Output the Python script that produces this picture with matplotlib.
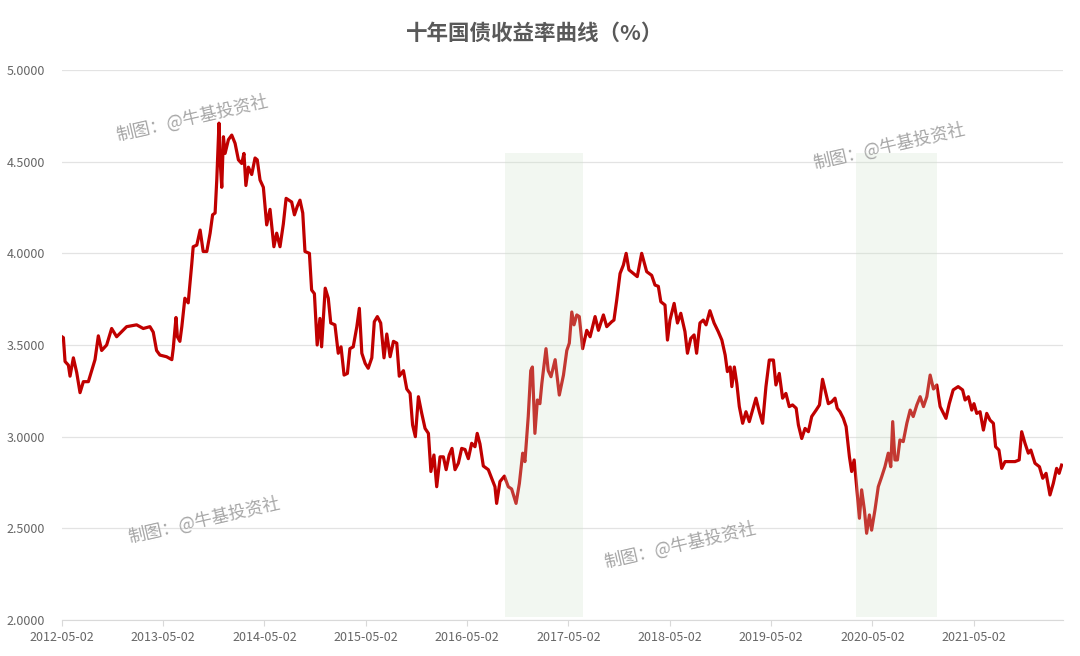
import pandas as pd
import matplotlib.pyplot as plt
import matplotlib.dates as mdates

plt.rcParams['font.family'] = ['Noto Sans CJK SC', 'DejaVu Sans']

# 10-year government bond yield (%)
dates = [
    "2012-05-02", "2012-05-07", "2012-05-13", "2012-05-25", "2012-05-31", "2012-06-06", "2012-06-12",
    "2012-06-24", "2012-07-06", "2012-07-18", "2012-08-05", "2012-08-17", "2012-08-29", "2012-09-10",
    "2012-09-22", "2012-10-10", "2012-10-28", "2012-11-15", "2012-12-21", "2013-01-26", "2013-02-19",
    "2013-03-15", "2013-03-27", "2013-04-08", "2013-04-20", "2013-05-14", "2013-06-02", "2013-06-07",
    "2013-06-17", "2013-06-22", "2013-07-01", "2013-07-08", "2013-07-19", "2013-07-31", "2013-08-13",
    "2013-08-18", "2013-08-31", "2013-09-12", "2013-09-23", "2013-10-06", "2013-10-18", "2013-10-27",
    "2013-11-05", "2013-11-11", "2013-11-19", "2013-11-23", "2013-11-29", "2013-12-05", "2013-12-11",
    "2013-12-23", "2014-01-04", "2014-01-16", "2014-01-28", "2014-02-09", "2014-02-17", "2014-02-24",
    "2014-03-05", "2014-03-17", "2014-03-29", "2014-04-06", "2014-04-16", "2014-04-28", "2014-05-10",
    "2014-05-22", "2014-06-05", "2014-06-15", "2014-06-27", "2014-07-09", "2014-07-19", "2014-08-08",
    "2014-08-18", "2014-08-28", "2014-09-07", "2014-09-17", "2014-09-25", "2014-10-11", "2014-10-19",
    "2014-10-29", "2014-11-08", "2014-11-18", "2014-11-24", "2014-12-07", "2014-12-18", "2014-12-27",
    "2015-01-11", "2015-01-23", "2015-02-02", "2015-02-13", "2015-02-25", "2015-03-06", "2015-03-18",
    "2015-03-31", "2015-04-09", "2015-04-18", "2015-04-30", "2015-05-11", "2015-05-24", "2015-06-02",
    "2015-06-13", "2015-06-25", "2015-07-07", "2015-07-17", "2015-07-29", "2015-08-10", "2015-08-22",
    "2015-08-31", "2015-09-15", "2015-09-27", "2015-10-09", "2015-10-18", "2015-10-28", "2015-11-08",
    "2015-11-20", "2015-12-02", "2015-12-14", "2015-12-23", "2016-01-03", "2016-01-13", "2016-01-25",
    "2016-02-06", "2016-02-16", "2016-02-27", "2016-03-08", "2016-03-19", "2016-03-31", "2016-04-12",
    "2016-04-24", "2016-05-06", "2016-05-18", "2016-05-30", "2016-06-07", "2016-06-17", "2016-06-29",
    "2016-07-17", "2016-07-29", "2016-08-10", "2016-08-16", "2016-08-28", "2016-09-13", "2016-09-27",
    "2016-10-09", "2016-10-25", "2016-11-06", "2016-11-18", "2016-11-26", "2016-12-08", "2016-12-17",
    "2016-12-23", "2017-01-01", "2017-01-10", "2017-01-19", "2017-01-26", "2017-02-10", "2017-02-18",
    "2017-02-28", "2017-03-15", "2017-03-30", "2017-04-14", "2017-04-26", "2017-05-05", "2017-05-14",
    "2017-05-22", "2017-06-01", "2017-06-10", "2017-06-22", "2017-07-07", "2017-07-19", "2017-08-06",
    "2017-08-18", "2017-09-05", "2017-09-17", "2017-10-05", "2017-10-13", "2017-10-23", "2017-11-04",
    "2017-11-16", "2017-11-26", "2017-12-06", "2017-12-22", "2018-01-05", "2018-01-21", "2018-02-08",
    "2018-02-26", "2018-03-10", "2018-03-22", "2018-03-31", "2018-04-15", "2018-04-24", "2018-05-03",
    "2018-05-18", "2018-05-30", "2018-06-11", "2018-06-26", "2018-07-05", "2018-07-17", "2018-07-29",
    "2018-08-07", "2018-08-19", "2018-08-31", "2018-09-10", "2018-09-24", "2018-10-09", "2018-10-24",
    "2018-11-06", "2018-11-18", "2018-11-26", "2018-12-06", "2018-12-12", "2018-12-21", "2018-12-30",
    "2019-01-08", "2019-01-20", "2019-02-01", "2019-02-13", "2019-02-25", "2019-03-09", "2019-03-21",
    "2019-04-02", "2019-04-14", "2019-04-26", "2019-05-11", "2019-05-20", "2019-06-01", "2019-06-13",
    "2019-06-25", "2019-07-07", "2019-07-19", "2019-08-01", "2019-08-09", "2019-08-21", "2019-09-02",
    "2019-09-14", "2019-09-26", "2019-10-12", "2019-10-24", "2019-11-04", "2019-11-13", "2019-11-25",
    "2019-12-07", "2019-12-19", "2019-12-27", "2020-01-06", "2020-01-18", "2020-01-28", "2020-02-05",
    "2020-02-09", "2020-02-17", "2020-02-26", "2020-03-06", "2020-03-16", "2020-03-24", "2020-04-03",
    "2020-04-11", "2020-04-21", "2020-04-29", "2020-05-11", "2020-05-23", "2020-06-04", "2020-06-16",
    "2020-06-28", "2020-07-07", "2020-07-14", "2020-07-22", "2020-07-31", "2020-08-09", "2020-08-21",
    "2020-09-03", "2020-09-15", "2020-09-26", "2020-10-09", "2020-10-21", "2020-11-02", "2020-11-14",
    "2020-11-26", "2020-12-08", "2020-12-20", "2021-01-01", "2021-01-13", "2021-01-22", "2021-02-03",
    "2021-02-17", "2021-03-07", "2021-03-23", "2021-04-01", "2021-04-13", "2021-04-25", "2021-05-03",
    "2021-05-13", "2021-05-25", "2021-06-06", "2021-06-18", "2021-06-30", "2021-07-12", "2021-07-20",
    "2021-08-01", "2021-08-11", "2021-08-23", "2021-09-10", "2021-09-28", "2021-10-13", "2021-10-22",
    "2021-11-03", "2021-11-15", "2021-11-24", "2021-12-09", "2021-12-25", "2022-01-06", "2022-01-18",
    "2022-02-01", "2022-02-13", "2022-02-25", "2022-03-06", "2022-03-15",
]
yields = [
    3.545, 3.54, 3.41, 3.39, 3.33, 3.38, 3.43,
    3.35, 3.24, 3.30, 3.30, 3.36, 3.42, 3.55,
    3.47, 3.50, 3.59, 3.545, 3.60, 3.61, 3.59,
    3.60, 3.57, 3.47, 3.445, 3.436, 3.42, 3.48,
    3.65, 3.545, 3.52, 3.60, 3.755, 3.73, 3.945,
    4.036, 4.045, 4.127, 4.01, 4.01, 4.11, 4.21,
    4.22, 4.40, 4.71, 4.51, 4.36, 4.636, 4.545,
    4.62, 4.645, 4.60, 4.51, 4.49, 4.545, 4.37,
    4.47, 4.43, 4.52, 4.51, 4.40, 4.36, 4.155,
    4.24, 4.036, 4.11, 4.036, 4.16, 4.30, 4.28,
    4.21, 4.255, 4.29, 4.22, 4.01, 4.00, 3.80,
    3.78, 3.50, 3.645, 3.49, 3.81, 3.755, 3.62,
    3.61, 3.455, 3.49, 3.336, 3.345, 3.48, 3.49,
    3.60, 3.70, 3.455, 3.40, 3.373, 3.43, 3.627,
    3.655, 3.62, 3.43, 3.56, 3.436, 3.52, 3.51,
    3.33, 3.36, 3.26, 3.236, 3.064, 3.00, 3.218,
    3.127, 3.045, 3.018, 2.81, 2.90, 2.727, 2.89,
    2.89, 2.82, 2.90, 2.936, 2.82, 2.855, 2.936,
    2.93, 2.88, 2.964, 2.945, 3.018, 2.96, 2.84,
    2.82, 2.773, 2.727, 2.636, 2.755, 2.785, 2.727,
    2.715, 2.636, 2.745, 2.91, 2.864, 3.11, 3.36,
    3.38, 3.018, 3.20, 3.18, 3.29, 3.48, 3.36,
    3.327, 3.42, 3.227, 3.336, 3.47, 3.51, 3.68,
    3.61, 3.664, 3.655, 3.48, 3.58, 3.545, 3.655,
    3.58, 3.664, 3.60, 3.627, 3.636, 3.745, 3.89,
    3.936, 4.00, 3.91, 3.89, 3.873, 4.00, 3.90,
    3.88, 3.827, 3.82, 3.736, 3.718, 3.527, 3.636,
    3.727, 3.62, 3.673, 3.573, 3.455, 3.536, 3.555,
    3.455, 3.62, 3.636, 3.61, 3.687, 3.62, 3.573,
    3.527, 3.445, 3.355, 3.38, 3.273, 3.38, 3.29,
    3.164, 3.073, 3.136, 3.082, 3.145, 3.21, 3.136,
    3.073, 3.273, 3.418, 3.418, 3.282, 3.345, 3.21,
    3.236, 3.164, 3.173, 3.155, 3.064, 2.99, 3.045,
    3.027, 3.11, 3.145, 3.173, 3.313, 3.255, 3.18,
    3.19, 3.21, 3.155, 3.136, 3.10, 3.055, 2.945,
    2.89, 2.81, 2.873, 2.727, 2.555, 2.71, 2.60,
    2.473, 2.573, 2.49, 2.60, 2.727, 2.78, 2.836,
    2.91, 2.836, 3.082, 2.873, 2.873, 2.982, 2.973,
    3.073, 3.145, 3.11, 3.173, 3.218, 3.164, 3.218,
    3.336, 3.26, 3.282, 3.164, 3.127, 3.10, 3.18,
    3.255, 3.273, 3.255, 3.20, 3.218, 3.145, 3.18,
    3.127, 3.136, 3.036, 3.127, 3.09, 3.073, 2.945,
    2.927, 2.827, 2.864, 2.864, 2.864, 2.873, 3.027,
    2.964, 2.91, 2.927, 2.855, 2.836, 2.773, 2.80,
    2.682, 2.745, 2.827, 2.80, 2.845,
]

tick_dates = ["2012-05-02", "2013-05-02", "2014-05-02", "2015-05-02", "2016-05-02",
              "2017-05-02", "2018-05-02", "2019-05-02", "2020-05-02", "2021-05-02"]
y_ticks = [2.0, 2.5, 3.0, 3.5, 4.0, 4.5, 5.0]

# highlighted periods
spans = [("2016-09-14", "2017-06-22"), ("2020-03-05", "2020-12-20")]
span_top = 4.55

title = "十年国债收益率曲线（%）"
watermark = "制图：@牛基投资社"

x = pd.to_datetime(dates)

fig = plt.figure(figsize=(10.8, 6.56), dpi=100)
ax = fig.add_axes([62 / 1080, 1 - 620 / 656, 1001 / 1080, 550 / 656])

ax.plot(x, yields, color='#C00000', linewidth=2.3, zorder=3)

for s, e in spans:
    ax.axvspan(pd.Timestamp(s), pd.Timestamp(e), ymin=0.005, ymax=(span_top - 2.0) / 3.0,
               color=(207 / 255, 227 / 255, 203 / 255), alpha=0.25, linewidth=0, zorder=4)

ax.set_ylim(2.0, 5.0)
ax.set_xlim(pd.Timestamp("2012-05-02"), pd.Timestamp("2022-03-20"))
ax.set_yticks(y_ticks)
ax.set_yticklabels([f"{v:.4f}" for v in y_ticks])
ax.set_xticks(pd.to_datetime(tick_dates))
ax.set_xticklabels(tick_dates)
ax.grid(axis='y', color='#E3E3E3', linewidth=0.9, zorder=0)
ax.set_axisbelow(True)

for side in ['top', 'right', 'left']:
    ax.spines[side].set_visible(False)
ax.spines['bottom'].set_color('#D9D9D9')
ax.tick_params(axis='y', length=0, pad=12, labelsize=9, labelcolor='#666666')
ax.tick_params(axis='x', length=4, color='#D9D9D9', pad=4, labelsize=9, labelcolor='#666666')

fig.text(0.495, 1 - 33 / 656, title, ha='center', va='center', fontsize=15.5,
         fontweight='bold', color='#595959')

for cx, cy in [(192, 118), (889, 146), (204, 520), (680, 545)]:
    fig.text(cx / 1080, 1 - cy / 656, watermark, ha='center', va='center', rotation=13,
             fontsize=12.5, color='#A6A6A6', zorder=10)

fig.savefig("out.png", dpi=100)
